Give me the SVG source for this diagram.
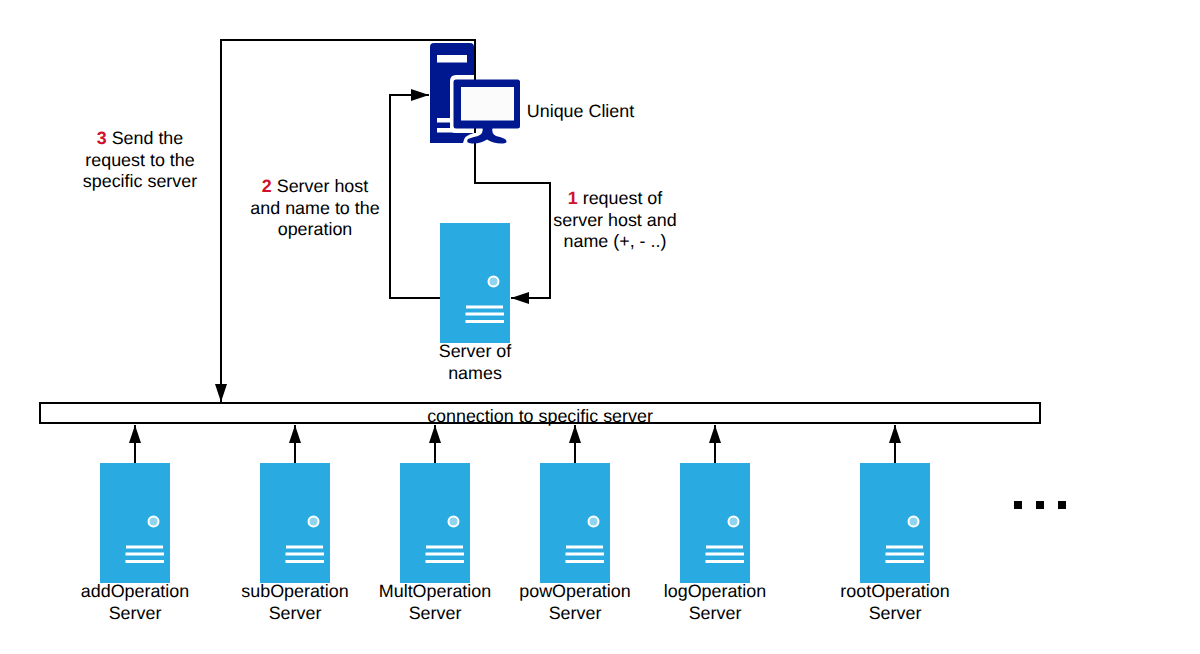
<svg xmlns="http://www.w3.org/2000/svg" xmlns:xlink="http://www.w3.org/1999/xlink" width="1200" height="654" viewBox="0 0 1200 654">
<style>
text{font-family:"Liberation Sans",Arial,sans-serif;font-size:17.9px;fill:#000;text-anchor:middle;text-rendering:geometricPrecision}
.s{fill:#29abe2}
.w{fill:none;stroke:#fff;stroke-width:3}
.c{fill:none;stroke:#000;stroke-width:2}
.n{fill:#d0112b;font-weight:bold}
.b{fill:#00188f}
</style>
<defs>
<marker id="a" markerUnits="userSpaceOnUse" markerWidth="20" markerHeight="14" refX="18" refY="6" orient="auto"><path d="M0 0L18 6L0 12Z" fill="#000"/></marker>
<g id="srv">
<rect class="s" width="70" height="120"/>
<circle cx="53.500" cy="58.500" r="5" fill="#90d5f0" stroke="#fff" stroke-width="2"/>
<path d="M26 84H63M25.500 91H64M25.500 98.500H64" class="w"/>
</g>
</defs>
<rect width="1200" height="654" fill="#fff"/>
<g id="connectors">
<path class="c" d="M475 143V183H550V298H511" marker-end="url(#a)"/>
<path class="c" d="M440 298H390V95H429" marker-end="url(#a)"/>
<path class="c" d="M475 143V40H221V402" marker-end="url(#a)"/>
<path class="c" d="M135 463V425" marker-end="url(#a)"/>
<path class="c" d="M295 463V425" marker-end="url(#a)"/>
<path class="c" d="M435 463V425" marker-end="url(#a)"/>
<path class="c" d="M575 463V425" marker-end="url(#a)"/>
<path class="c" d="M715 463V425" marker-end="url(#a)"/>
<path class="c" d="M895 463V425" marker-end="url(#a)"/>
</g>
<g id="client">
<path class="b" d="M434 43H470Q474 43 474 47V143H430V47Q430 43 434 43Z"/>
<rect x="437" y="55" width="30" height="7.500" fill="#fff"/>
<rect x="437" y="118" width="14" height="4.500" fill="#fff"/>
<rect x="437" y="128" width="27" height="4.500" fill="#fff"/>
<path d="M474 75H456Q450 75 450 81V128Q450 133 456 133H474Z" fill="#fff"/>
<path d="M463 143Q464 135 474 133H476V143Z" fill="#fff"/>
<rect class="b" x="453.500" y="79.500" width="66.500" height="49" rx="2.500"/>
<rect x="461" y="87" width="53" height="33.500" fill="#fbfbfb"/>
<path class="b" d="M482.500 128H492.500Q491 133 496 136Q501 137 505 139Q509 143 503 143.500Q494 144 487 139.500Q480 144 472 143.500Q465 143 468 139Q473 137 478 136Q484 133 482.500 128Z"/>
<text x="580.500" y="116.500">Unique Client</text>
</g>
<g id="names"><use xlink:href="#srv" x="440" y="223"/>
<text x="475" y="357.400">Server of</text><text x="475" y="379.400">names</text></g>
<g id="bus"><rect x="40" y="403" width="1000" height="20" fill="#fff" stroke="#000" stroke-width="2"/>
<text x="540" y="422.400">connection to specific server</text></g>
<g id="label1"><text x="615" y="204"><tspan class="n">1</tspan> request of</text><text x="615" y="225.500">server host and</text><text x="615" y="247">name (+, - ..)</text></g>
<g id="label2"><text x="315" y="192"><tspan class="n">2</tspan> Server host</text><text x="315" y="213.500">and name to the</text><text x="315" y="235">operation</text></g>
<g id="label3"><text x="140" y="144"><tspan class="n">3</tspan> Send the</text><text x="140" y="165.500">request to the</text><text x="140" y="187">specific server</text></g>
<g id="add"><use xlink:href="#srv" x="100" y="463"/><text x="135" y="597.400">addOperation</text><text x="135" y="619.400">Server</text></g>
<g id="sub"><use xlink:href="#srv" x="260" y="463"/><text x="295" y="597.400">subOperation</text><text x="295" y="619.400">Server</text></g>
<g id="mult"><use xlink:href="#srv" x="400" y="463"/><text x="435" y="597.400">MultOperation</text><text x="435" y="619.400">Server</text></g>
<g id="pow"><use xlink:href="#srv" x="540" y="463"/><text x="575" y="597.400">powOperation</text><text x="575" y="619.400">Server</text></g>
<g id="log"><use xlink:href="#srv" x="680" y="463"/><text x="715" y="597.400">logOperation</text><text x="715" y="619.400">Server</text></g>
<g id="root"><use xlink:href="#srv" x="860" y="463"/><text x="895" y="597.400">rootOperation</text><text x="895" y="619.400">Server</text></g>
<g id="dots"><rect x="1014" y="501" width="8" height="8"/><rect x="1036" y="501" width="8" height="8"/><rect x="1058" y="501" width="8" height="8"/></g>
</svg>
